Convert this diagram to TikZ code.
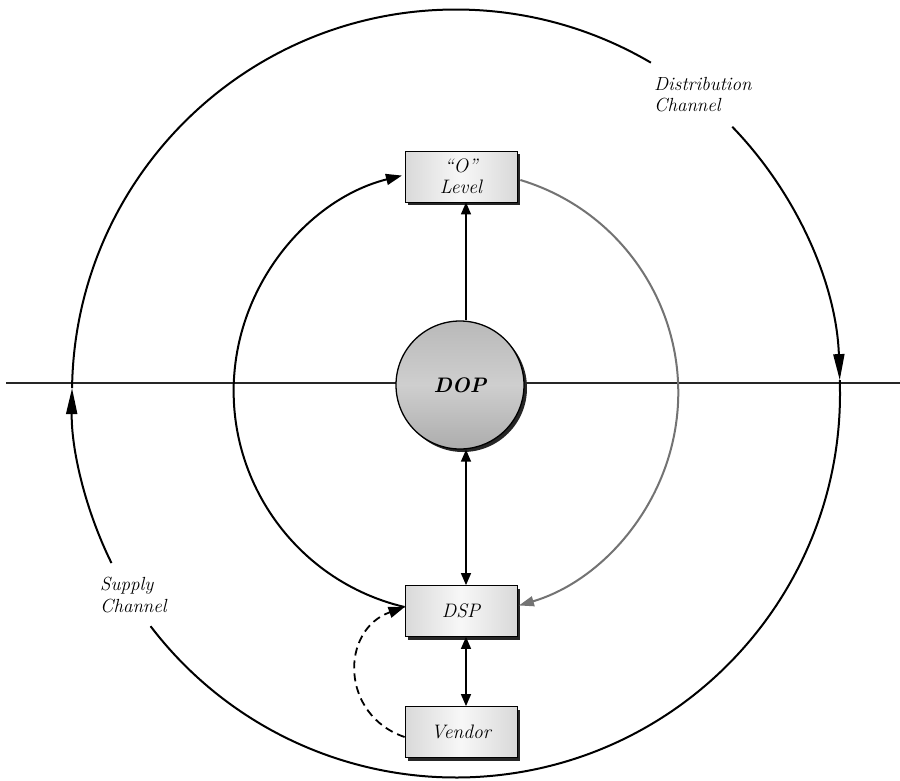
\documentclass[tikz,border=0pt]{standalone}
\usepackage{fontspec}
\usetikzlibrary{arrows.meta,shadows,calc}
\begin{document}
\begin{tikzpicture}[x=1pt,y=-1pt,
  lbl/.style={font=\fontsize{19}{21.5}\selectfont\itshape, anchor=north west, inner sep=0pt, align=left},
  box/.style={draw=black, line width=0.8pt, minimum width=112pt, minimum height=51pt, inner sep=0pt,
    align=center, left color=gray!30, right color=gray!30, middle color=gray!6,
    general shadow={fill=black!85, shadow xshift=3pt, shadow yshift=-3pt},
    font=\fontsize{19.5}{21}\selectfont\itshape},
  dopnode/.style={circle, draw=black, line width=1.3pt, minimum size=128pt, inner sep=0pt,
    top color=gray!55, bottom color=gray!65, middle color=gray!38,
    general shadow={fill=black!85, shadow xshift=3pt, shadow yshift=-3pt},
    font=\fontsize{21}{24}\selectfont\bfseries\itshape},
  outer/.style={line width=2pt, black},
  bigtip/.style={-{Triangle[length=26pt,width=11pt]}},
  hline/.style={line width=2pt, black!85},
  inner/.style={line width=2pt, black},
  midtip/.style={-{Triangle[length=16pt,width=11pt]}},
  grayarc/.style={line width=2pt, black!55},
  graytip/.style={-{Triangle[length=15pt,width=10pt]}},
  vline/.style={line width=1.4pt, black},
  smalltip/.style={-{Triangle[length=12pt,width=10pt]}},
  dbltip/.style={{Triangle[length=12pt,width=10pt]}-{Triangle[length=12pt,width=10pt]}},
  dashline/.style={line width=1.8pt, black, dash pattern=on 8pt off 5pt}
]
\useasboundingbox (0,0) rectangle (900,780);
\fill[white] (0,0) rectangle (900,780);
\coordinate (oc) at (456,393.5);
\coordinate (hl) at (6,383);
\coordinate (hr) at (900,383);
\coordinate (vx) at (466,0);
\draw[hline] (hl) -- (hr);

% outer circle: supply channel
\draw[outer, bigtip] ($(oc)+(153.8:384)$) arc[start angle=153.8, end angle=180.8, radius=384];
\draw[outer] ($(oc)+(180.8:384)$) arc[start angle=180.8, end angle=300.5, radius=384];
% outer circle: distribution channel
\draw[outer, bigtip] ($(oc)+(316:384)$) arc[start angle=316, end angle=358, radius=384];
\draw[outer] ($(oc)+(358:384)$) arc[start angle=358, end angle=502.7, radius=384];

% nodes
\node[box] (olevel) at (461,176.5) {“O”\\Level};
\node[box] (dsp) at (461,611) {DSP};
\node[box] (vendor) at (461,732) {Vendor};
\node[dopnode] (dop) at (460,385) {DOP};

% inner circle
\draw[inner, midtip] ([yshift=4pt]dsp.west) arc[start angle=103.3, end angle=256, radius=222];
\draw[grayarc, graytip] ([xshift=3pt,yshift=-3.5pt]olevel.east) arc[start angle=286.8, end angle=433.6, radius=222];

% vertical connectors
\draw[vline, smalltip] (dop.north -| vx) -- (olevel.south -| vx);
\draw[vline, dbltip] (dop.south -| vx) -- (dsp.north -| vx);
\draw[vline, dbltip] (dsp.south -| vx) -- (vendor.north -| vx);

% dashed
\draw[dashline, midtip] ([yshift=-5pt]vendor.west) .. controls (340,715) and (340,630) .. ([yshift=4pt]dsp.west);

% labels
\node[lbl] (dist) at (654,77) {Distribution\\Channel};
\node[lbl] (supply) at (100,577) {Supply\\Channel};
\end{tikzpicture}
\end{document}
